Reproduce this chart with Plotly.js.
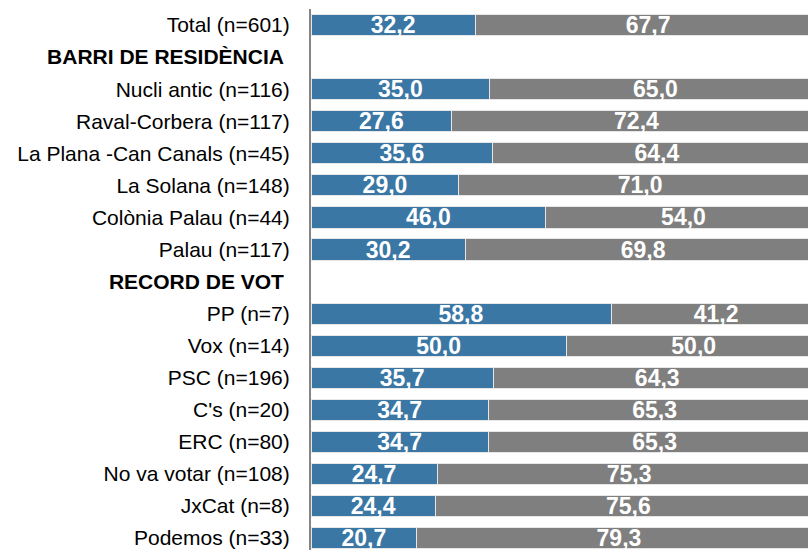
<!DOCTYPE html>
<html>
<head>
<meta charset="utf-8">
<script src="https://cdn.plot.ly/plotly-3.0.1.min.js"></script>
<style>html,body{margin:0;padding:0;background:#fff;}#chart{width:808px;height:550px;}</style>
</head>
<body>
<div id="chart"></div>
<script>
const categories = [
  "Total (n=601)",
  "BARRI DE RESIDÈNCIA",
  "Nucli antic (n=116)",
  "Raval-Corbera (n=117)",
  "La Plana -Can Canals (n=45)",
  "La Solana (n=148)",
  "Colònia Palau (n=44)",
  "Palau (n=117)",
  "RECORD DE VOT",
  "PP (n=7)",
  "Vox (n=14)",
  "PSC (n=196)",
  "C's (n=20)",
  "ERC (n=80)",
  "No va votar (n=108)",
  "JxCat (n=8)",
  "Podemos (n=33)"
];
const headings = ["BARRI DE RESIDÈNCIA", "RECORD DE VOT"];
const blueValues = [32.2, null, 35.0, 27.6, 35.6, 29.0, 46.0, 30.2, null, 58.8, 50.0, 35.7, 34.7, 34.7, 24.7, 24.4, 20.7];
const grayValues = [67.7, null, 65.0, 72.4, 64.4, 71.0, 54.0, 69.8, null, 41.2, 50.0, 64.3, 65.3, 65.3, 75.3, 75.6, 79.3];

const idx = categories.map((_, i) => i);
const tickText = categories.map(c => headings.includes(c) ? "<b>" + c + "</b>\u00a0" : c);
const fmt = v => v == null ? "" : v.toFixed(1).replace(".", ",");

const common = {
  type: "bar",
  orientation: "h",
  y: idx,
  width: 0.66,
  textposition: "inside",
  insidetextanchor: "middle",
  constraintext: "none",
  textfont: {family: "Liberation Sans, Arial, sans-serif", size: 23, color: "#ffffff", weight: "bold"},
  hoverinfo: "none",
  cliponaxis: true
};

const traces = [
  Object.assign({}, common, {
    x: blueValues,
    text: blueValues.map(fmt),
    texttemplate: "<b>%{text}</b>",
    marker: {color: "#3a77a5", line: {color: "#e6e6e6", width: 1}}
  }),
  Object.assign({}, common, {
    x: grayValues,
    text: grayValues.map(fmt),
    texttemplate: "<b>%{text}</b>",
    marker: {color: "#7f7f7f", line: {color: "#e6e6e6", width: 1}}
  })
];

const layout = {
  width: 808,
  height: 550,
  barmode: "stack",
  showlegend: false,
  margin: {l: 311, r: 0, t: 9, b: 0, pad: 0},
  paper_bgcolor: "#ffffff",
  plot_bgcolor: "#ffffff",
  font: {family: "Liberation Sans, Arial, sans-serif", size: 21, color: "#000000"},
  xaxis: {
    range: [0, 97.4],
    showgrid: false,
    zeroline: false,
    showticklabels: false,
    ticks: "",
    showline: false,
    fixedrange: true
  },
  yaxis: {
    range: [16.37, -0.5],
    tickmode: "array",
    tickvals: idx,
    ticktext: tickText,
    showgrid: false,
    zeroline: false,
    ticks: "",
    showline: true,
    linecolor: "#858585",
    linewidth: 2,
    ticklabelstandoff: 15,
    tickfont: {family: "Liberation Sans, Arial, sans-serif", size: 21, color: "#000000"},
    fixedrange: true
  }
};

Plotly.newPlot("chart", traces, layout, {displayModeBar: false, staticPlot: true});
</script>
</body>
</html>
